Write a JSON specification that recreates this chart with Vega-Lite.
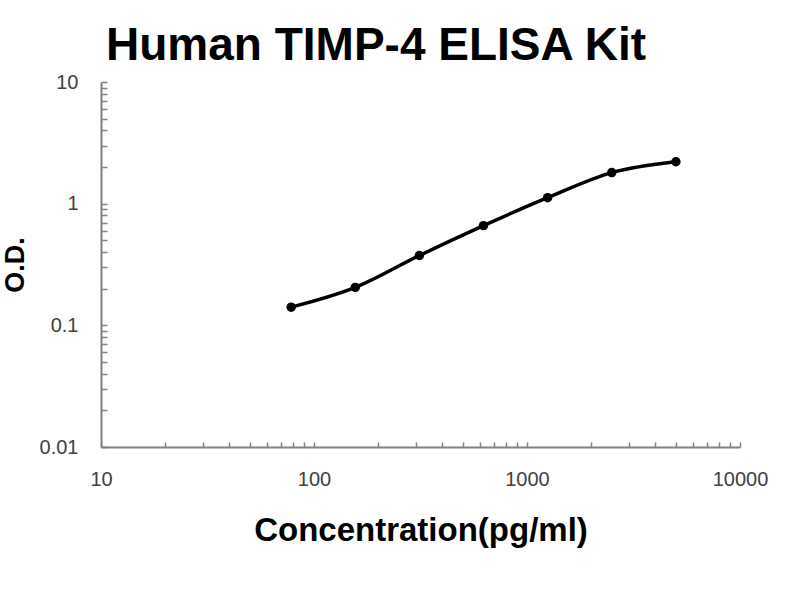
{
  "$schema": "https://vega.github.io/schema/vega-lite/v6.json",
  "width": 639,
  "height": 365,
  "autosize": {"type": "none"},
  "padding": {"left": 101, "top": 82, "right": 60, "bottom": 153},
  "background": "white",
  "view": {"stroke": null},
  "title": {
    "text": "Human TIMP-4 ELISA Kit",
    "font": "Liberation Sans",
    "fontSize": 46,
    "fontWeight": "bold",
    "color": "#000000",
    "anchor": "start",
    "frame": "group",
    "dx": 5,
    "offset": 2
  },
  "data": {
    "values": [
      {"conc": 78.125, "od": 0.141},
      {"conc": 156.25, "od": 0.205},
      {"conc": 312.5, "od": 0.375},
      {"conc": 625, "od": 0.66},
      {"conc": 1250, "od": 1.12},
      {"conc": 2500, "od": 1.8},
      {"conc": 5000, "od": 2.21}
    ]
  },
  "encoding": {
    "x": {
      "field": "conc",
      "type": "quantitative",
      "scale": {"type": "log", "domain": [10, 10000], "nice": false},
      "axis": {
        "title": "Concentration(pg/ml)",
        "titleFont": "Liberation Sans",
        "titleFontSize": 33,
        "titleFontWeight": "bold",
        "titleColor": "#000000",
        "titlePadding": 25,
        "values": [10, 20, 30, 40, 50, 60, 70, 80, 90, 100, 200, 300, 400, 500, 600, 700, 800, 900, 1000, 2000, 3000, 4000, 5000, 6000, 7000, 8000, 9000, 10000],
        "labelExpr": "datum.value == 10 ? '10' : datum.value == 100 ? '100' : datum.value == 1000 ? '1000' : datum.value == 10000 ? '10000' : ''",
        "labelFont": "Liberation Sans",
        "labelFontSize": 20,
        "labelColor": "#404040",
        "labelPadding": 27,
        "labelFlush": false,
        "labelOverlap": false,
        "tickSize": -5,
        "tickColor": "#808080",
        "tickWidth": 1.5,
        "domainColor": "#808080",
        "domainWidth": 2,
        "grid": false
      }
    },
    "y": {
      "field": "od",
      "type": "quantitative",
      "scale": {"type": "log", "domain": [0.01, 10], "nice": false},
      "axis": {
        "title": "O.D.",
        "titleFont": "Liberation Sans",
        "titleFontSize": 27,
        "titleFontWeight": "bold",
        "titleColor": "#000000",
        "titlePadding": 10,
        "values": [0.01, 0.02, 0.03, 0.04, 0.05, 0.06, 0.07, 0.08, 0.09, 0.1, 0.2, 0.3, 0.4, 0.5, 0.6, 0.7, 0.8, 0.9, 1, 2, 3, 4, 5, 6, 7, 8, 9, 10],
        "labelExpr": "datum.value == 0.01 ? '0.01' : datum.value == 0.1 ? '0.1' : datum.value == 1 ? '1' : datum.value == 10 ? '10' : ''",
        "labelFont": "Liberation Sans",
        "labelFontSize": 20,
        "labelColor": "#404040",
        "labelPadding": 29,
        "labelFlush": false,
        "labelOverlap": false,
        "tickSize": -6,
        "tickColor": "#808080",
        "tickWidth": 1.5,
        "domainColor": "#808080",
        "domainWidth": 2,
        "grid": false
      }
    }
  },
  "layer": [
    {
      "mark": {"type": "line", "color": "#000000", "strokeWidth": 3.5, "interpolate": "monotone"}
    },
    {
      "mark": {"type": "point", "filled": true, "color": "#000000", "size": 90, "opacity": 1}
    }
  ]
}
